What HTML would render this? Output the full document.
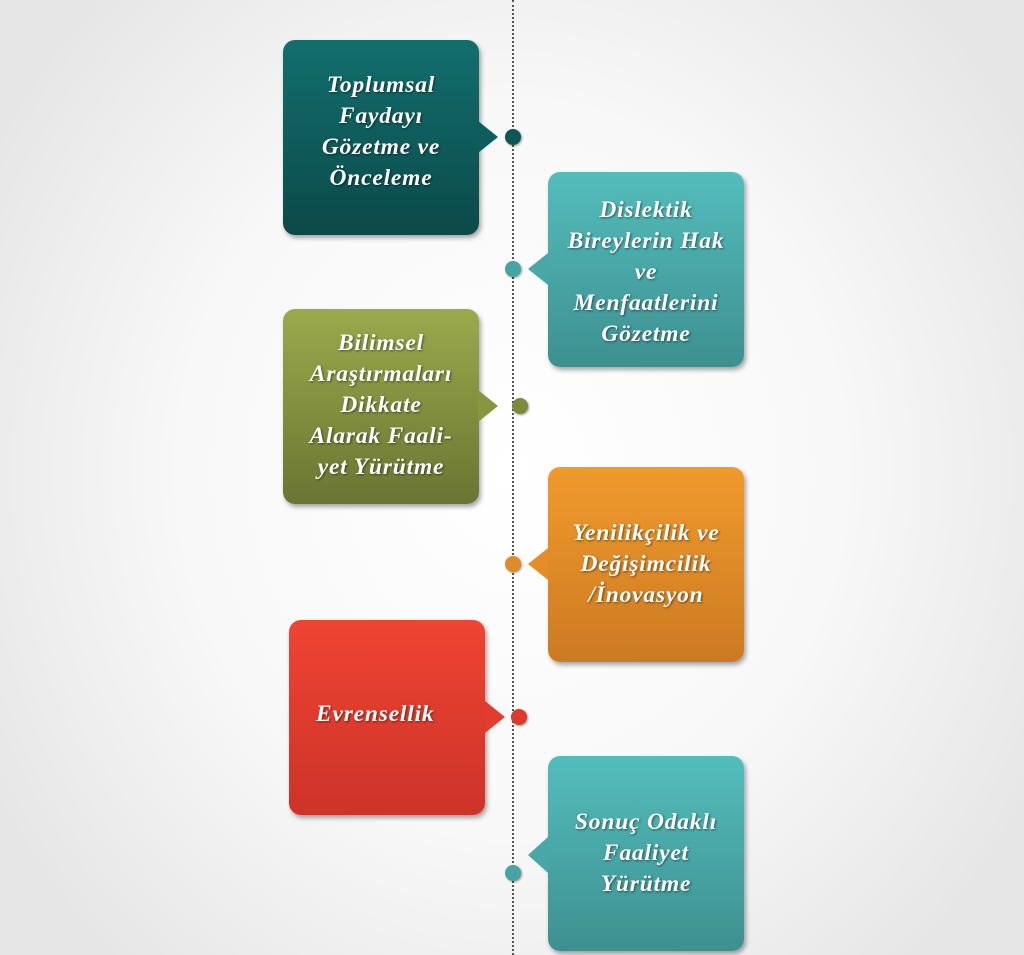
<!DOCTYPE html>
<html><head><meta charset="utf-8"><style>
html,body{margin:0;padding:0}
body{width:1024px;height:955px;position:relative;overflow:hidden;background:radial-gradient(ellipse 600px 660px at 512px 470px,#ffffff 0%,#f8f8f8 55%,#e6e6e6 100%);font-family:"Liberation Serif",serif}
.line{position:absolute;left:512px;top:0;height:955px;border-left:2px dotted #555}
.b{position:absolute;width:196px;height:195px;border-radius:12px;box-shadow:2px 3px 5px rgba(0,0,0,.35);color:#fff;font-weight:bold;font-style:italic;font-size:23.5px;letter-spacing:0.8px;line-height:31px;text-align:center;display:flex;align-items:center;justify-content:center;text-shadow:1px 1px 2px rgba(0,0,0,.5);box-sizing:border-box;padding:0 0 12px 0;white-space:nowrap}
.t{position:absolute;width:0;height:0}
.d{position:absolute;width:16px;height:16px;border-radius:50%;box-shadow:1px 1px 2px rgba(0,0,0,.4)}
</style></head><body>
<div class="line"></div>

<div class="b" style="left:283px;top:40px;background:linear-gradient(#126f6e,#0b4a49)"><div>Toplumsal<br>Faydayı<br>Gözetme ve<br>Önceleme</div></div>
<div class="t" style="left:478px;top:121px;border-top:16px solid transparent;border-bottom:16px solid transparent;border-left:20px solid #0e5c5b"></div>
<div class="d" style="left:505px;top:129px;background:#0e5655"></div>

<div class="b" style="left:548px;top:172px;background:linear-gradient(#53bdbc,#3e9090);padding:6px 0 0 0"><div>Dislektik<br>Bireylerin Hak<br>ve<br>Menfaatlerini<br>Gözetme</div></div>
<div class="t" style="left:528px;top:253px;border-top:16px solid transparent;border-bottom:16px solid transparent;border-right:20px solid #48a8a7"></div>
<div class="d" style="left:505px;top:261px;background:#46a5a4"></div>

<div class="b" style="left:283px;top:309px;background:linear-gradient(#9aaa4c,#6a7532);padding-bottom:2px"><div>Bilimsel<br>Araştırmaları<br>Dikkate<br>Alarak Faali-<br>yet Yürütme</div></div>
<div class="t" style="left:478px;top:390px;border-top:16px solid transparent;border-bottom:16px solid transparent;border-left:20px solid #87963f"></div>
<div class="d" style="left:512px;top:398px;background:#7c8a3a"></div>

<div class="b" style="left:548px;top:467px;background:linear-gradient(#f09a2c,#cc7a22);padding-bottom:0"><div>Yenilikçilik ve<br>Değişimcilik<br>/İnovasyon</div></div>
<div class="t" style="left:528px;top:548px;border-top:16px solid transparent;border-bottom:16px solid transparent;border-right:20px solid #e58d28"></div>
<div class="d" style="left:505px;top:556px;background:#e28a27"></div>

<div class="b" style="left:289px;top:620px;background:linear-gradient(#ef4433,#cd3328);justify-content:flex-start;padding-left:27px;padding-bottom:6px">Evrensellik</div>
<div class="t" style="left:485px;top:701px;border-top:16px solid transparent;border-bottom:16px solid transparent;border-left:20px solid #e03d2e"></div>
<div class="d" style="left:511px;top:709px;background:#dd3a2c"></div>

<div class="b" style="left:548px;top:756px;background:linear-gradient(#53bdbc,#3e9090);padding-bottom:0"><div>Sonuç Odaklı<br>Faaliyet<br>Yürütme</div></div>
<div class="t" style="left:528px;top:837px;border-top:18px solid transparent;border-bottom:18px solid transparent;border-right:20px solid #48a8a7"></div>
<div class="d" style="left:505px;top:865px;background:#46a5a4"></div>
</body></html>
